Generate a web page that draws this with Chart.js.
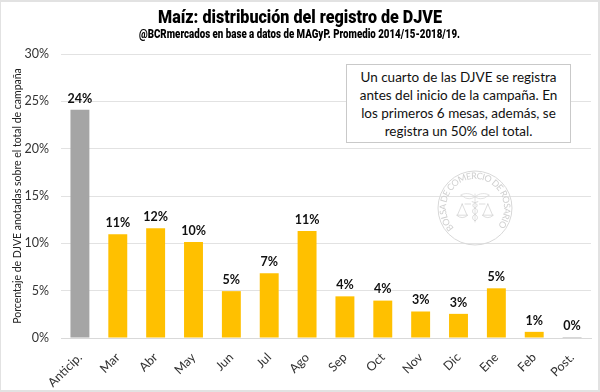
<!DOCTYPE html>
<html>
<head>
<meta charset="utf-8">
<script src="https://cdn.jsdelivr.net/npm/chart.js@4"></script>
<style>
  html, body { margin: 0; padding: 0; background: #fff; }
  #wrap { position: relative; width: 600px; height: 392px; overflow: hidden; }
  #frame { position: absolute; left: 0; top: 0; width: 600px; height: 392px; box-sizing: border-box; border: 2px solid #e2e2e2; border-left-width: 1px; pointer-events: none; }
  canvas { position: absolute; left: 0; top: 0; }
  #nota { position: absolute; left: 346px; top: 64px; width: 225px; height: 79px; box-sizing: border-box; border: 1px solid #c9c9c9; background: #fff; font: 13.5px/18px Lato, sans-serif; color: #111; text-align: center; padding-top: 3px; white-space: nowrap; }
  #sello { position: absolute; left: 437px; top: 170px; }
</style>
</head>
<body>
<div id="wrap">
  <canvas id="grafico" width="600" height="392"></canvas>
  <svg id="sello" width="76" height="76" viewBox="0 0 76 76">
    <defs><path id="arco" d="M17 58 A29 29 0 1 1 59 58"/></defs>
    <circle cx="38" cy="38" r="37" fill="none" stroke="#d8d8d8" stroke-width="1"/>
    <text font-family="Lato" font-size="9" fill="#cfcfcf"><textPath href="#arco" textLength="132" lengthAdjust="spacing">BOLSA DE COMERCIO DE ROSARIO</textPath></text>
    <g transform="translate(38 38) scale(0.8) translate(-38 -38)">
      <path d="M38 20v36M38 24c-6-5-13-5-18-2 4 1 5 4 8 4 4 1 7 0 10-2zM38 24c6-5 13-5 18-2-4 1-5 4-8 4-4 1-7 0-10-2z" fill="none" stroke="#d6d6d6" stroke-width="0.9"/>
      <path d="M34 30c8 2 8 6 4 8s-4 6 0 8 4 6 0 8M42 30c-8 2-8 6-4 8s4 6 0 8-4 6 0 8" fill="none" stroke="#cfcfcf" stroke-width="1"/>
      <path d="M22 32v2M54 32v2M22 33l-6 14M22 33l6 14M54 33l-6 14M54 33l6 14M15 47q7 6 14 0zM47 47q7 6 14 0zM25 33h8M43 33h8" fill="none" stroke="#cfcfcf" stroke-width="0.9"/>
    </g>
  </svg>
  <div id="nota">Un cuarto de las DJVE se registra<br>antes del inicio de la campaña. En<br>los primeros 6 mesas, además, se<br>registra un 50% del total.</div>
  <div id="frame"></div>
</div>
<script>
const categorias = ['Anticip.', 'Mar', 'Abr', 'May', 'Jun', 'Jul', 'Ago', 'Sep', 'Oct', 'Nov', 'Dic', 'Ene', 'Feb', 'Post.'];
const valores = [24.1, 10.95, 11.6, 10.15, 4.95, 6.85, 11.3, 4.4, 3.95, 2.8, 2.55, 5.25, 0.65, 0.1];
const colores = ['#a5a5a5', '#ffc000', '#ffc000', '#ffc000', '#ffc000', '#ffc000', '#ffc000', '#ffc000', '#ffc000', '#ffc000', '#ffc000', '#ffc000', '#ffc000', '#a5a5a5'];
const titulo = 'Maíz: distribución del registro de DJVE';
const subtitulo = '@BCRmercados en base a datos de MAGyP. Promedio 2014/15-2018/19.';
const tituloEje = 'Porcentaje de DJVE anotadas sobre el total de campaña';

// no hay fuente condensada instalada, se angosta la Roboto a mano
function textoAngosto(ctx, texto, font, ancho, x, y) {
    ctx.save();
    ctx.font = font;
    ctx.fillStyle = '#000';
    ctx.textAlign = 'center';
    ctx.textBaseline = 'middle';
    ctx.translate(x, y);
    ctx.scale(ancho / ctx.measureText(texto).width, 1);
    ctx.fillText(texto, 0, 0);
    ctx.restore();
}

const encabezado = {
    id: 'encabezado',
    afterDraw(chart) {
        textoAngosto(chart.ctx, titulo, '900 19px Roboto', 284, 300, 18);
        textoAngosto(chart.ctx, subtitulo, '900 12px Roboto', 321, 299.5, 35);
    }
};

// etiquetas arriba de cada barra
const etiquetas = {
    id: 'etiquetas',
    afterDatasetsDraw(chart) {
        const ctx = chart.ctx;
        ctx.save();
        ctx.font = 'bold 12.5px Lato';
        ctx.fillStyle = '#111';
        ctx.textAlign = 'center';
        ctx.textBaseline = 'bottom';
        chart.getDatasetMeta(0).data.forEach((bar, i) => {
            ctx.fillText(Math.round(valores[i]) + '%', bar.x, bar.y - 5);
        });
        ctx.restore();
    }
};

new Chart(document.getElementById('grafico'), {
    type: 'bar',
    data: {
        labels: categorias,
        datasets: [{ data: valores, backgroundColor: colores, barPercentage: 0.5, categoryPercentage: 1 }]
    },
    options: {
        responsive: false,
        animation: false,
        layout: { padding: { left: 0, right: 9, top: 54, bottom: 0 } },
        plugins: {
            legend: { display: false },
            tooltip: { enabled: false }
        },
        scales: {
            x: {
                afterFit(scale) { scale.height = 54; },
                grid: { display: false },
                border: { color: '#d9d9d9' },
                ticks: { color: '#333', font: { family: 'Lato', size: 12.5 }, maxRotation: 45, minRotation: 45, padding: 4 }
            },
            y: {
                min: 0,
                max: 30,
                afterFit(scale) { scale.width = 61; },
                grid: { color: '#e2e2e2', drawTicks: false },
                border: { display: false },
                title: { display: true, text: tituloEje, color: '#222', font: { family: 'Lato', size: 10.5 }, padding: { top: 11, bottom: 0 } },
                ticks: { stepSize: 5, color: '#333', font: { family: 'Lato', size: 12.5 }, padding: 12, callback: v => v + '%' }
            }
        }
    },
    plugins: [etiquetas, encabezado]
});
</script>
</body>
</html>
